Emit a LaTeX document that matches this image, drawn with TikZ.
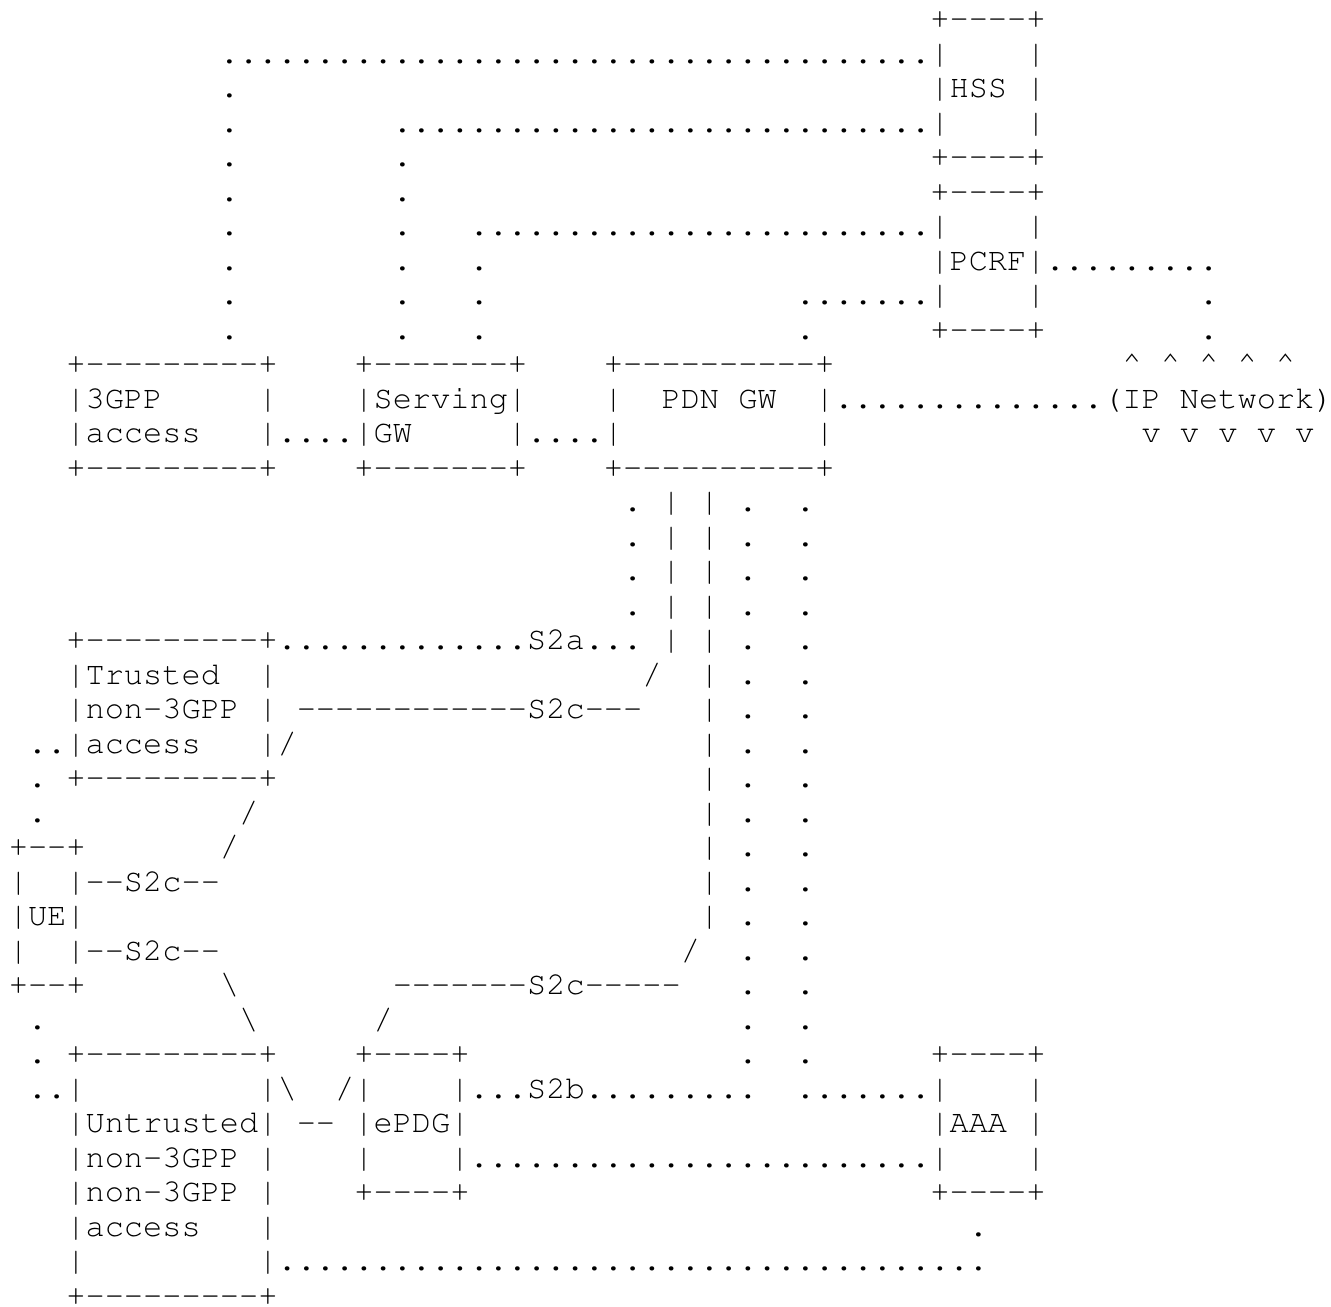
\documentclass[tikz,border=0pt]{standalone}
\usepackage[T1]{fontenc}
\usepackage{courier}
\frenchspacing
\newlength{\cw}
\setlength{\cw}{6pt}
\newcommand{\gap}[1]{\hspace*{#1\cw}}
\ExplSyntaxOn
\NewDocumentCommand{\dotrun}{m}{\prg_replicate:nn{#1}{.}}
\NewDocumentCommand{\dashrun}{m}{\prg_replicate:nn{#1}{-{}}}
\ExplSyntaxOff
\tikzset{txt/.style={anchor=base west, inner sep=0pt, outer sep=0pt, font=\ttfamily}}

\begin{document}
\begin{tikzpicture}[x=6pt, y=-10.78pt]
\useasboundingbox (-2.75pt,-1.72pt) rectangle (413.19pt,-410.16pt);

% HSS and PCRF
\node[txt] (r1) at (0,1) {\gap{48}+\dashrun{4}+};
\node[txt] (r2) at (0,2) {\gap{11}\dotrun{37}|\gap{4}|};
\node[txt] (r3) at (0,3) {\gap{11}.\gap{36}|HSS |};
\node[txt] (r4) at (0,4) {\gap{11}.\gap{8}\dotrun{28}|\gap{4}|};
\node[txt] (r5) at (0,5) {\gap{11}.\gap{8}.\gap{27}+\dashrun{4}+};
\node[txt] (r6) at (0,6) {\gap{11}.\gap{8}.\gap{27}+\dashrun{4}+};
\node[txt] (r7) at (0,7) {\gap{11}.\gap{8}.\gap{3}\dotrun{24}|\gap{4}|};
\node[txt] (r8) at (0,8) {\gap{11}.\gap{8}.\gap{3}.\gap{23}|PCRF|\dotrun{9}};
\node[txt] (r9) at (0,9) {\gap{11}.\gap{8}.\gap{3}.\gap{16}\dotrun{7}|\gap{4}|\gap{8}.};
\node[txt] (r10) at (0,10) {\gap{11}.\gap{8}.\gap{3}.\gap{16}.\gap{6}+\dashrun{4}+\gap{8}.};

% 3GPP access, Serving GW, PDN GW
\node[txt] (r11) at (0,11) {\gap{3}+\dashrun{9}+\gap{4}+\dashrun{7}+\gap{4}+\dashrun{10}+\gap{15}\textasciicircum\gap{1}\textasciicircum\gap{1}\textasciicircum\gap{1}\textasciicircum\gap{1}\textasciicircum};
\node[txt] (r12) at (0,12) {\gap{3}|3GPP\gap{5}|\gap{4}|Serving|\gap{4}|\gap{2}PDN GW\gap{2}|\dotrun{14}(IP Network)};
\node[txt] (r13) at (0,13) {\gap{3}|access\gap{3}|....|GW\gap{5}|....|\gap{10}|\gap{16}v v v v v};
\node[txt] (r14) at (0,14) {\gap{3}+\dashrun{9}+\gap{4}+\dashrun{7}+\gap{4}+\dashrun{10}+};

% Trusted non-3GPP access
\node[txt] (r15) at (0,15) {\gap{32}. | | .\gap{2}.};
\node[txt] (r16) at (0,16) {\gap{32}. | | .\gap{2}.};
\node[txt] (r17) at (0,17) {\gap{32}. | | .\gap{2}.};
\node[txt] (r18) at (0,18) {\gap{32}. | | .\gap{2}.};
\node[txt] (r19) at (0,19) {\gap{3}+\dashrun{9}+\dotrun{13}S2a... | | .\gap{2}.};
\node[txt] (r20) at (0,20) {\gap{3}|Trusted\gap{2}|\gap{19}/\gap{2}| .\gap{2}.};
\node[txt] (r21) at (0,21) {\gap{3}|non\dashrun{1}3GPP | \dashrun{12}S2c\dashrun{3}\gap{3}| .\gap{2}.};
\node[txt] (r22) at (0,22) {\gap{1}..|access\gap{3}|/\gap{21}| .\gap{2}.};
\node[txt] (r23) at (0,23) {\gap{1}. +\dashrun{9}+\gap{22}| .\gap{2}.};
\node[txt] (r24) at (0,24) {\gap{1}.\gap{10}/\gap{23}| .\gap{2}.};

% UE
\node[txt] (r25) at (0,25) {+\dashrun{2}+\gap{7}/\gap{24}| .\gap{2}.};
\node[txt] (r26) at (0,26) {|\gap{2}|\dashrun{2}S2c\dashrun{2}\gap{25}| .\gap{2}.};
\node[txt] (r27) at (0,27) {|UE|\gap{32}| .\gap{2}.};
\node[txt] (r28) at (0,28) {|\gap{2}|\dashrun{2}S2c\dashrun{2}\gap{24}/\gap{2}.\gap{2}.};
\node[txt] (r29) at (0,29) {+\dashrun{2}+\gap{7}\textbackslash\gap{8}\dashrun{7}S2c\dashrun{5}\gap{3}.\gap{2}.};
\node[txt] (r30) at (0,30) {\gap{1}.\gap{10}\textbackslash\gap{6}/\gap{18}.\gap{2}.};

% Untrusted non-3GPP access, ePDG, AAA
\node[txt] (r31) at (0,31) {\gap{1}. +\dashrun{9}+\gap{4}+\dashrun{4}+\gap{14}.\gap{2}.\gap{6}+\dashrun{4}+};
\node[txt] (r32) at (0,32) {\gap{1}..|\gap{9}|\textbackslash\gap{2}/|\gap{4}|...S2b\dotrun{9}\gap{2}\dotrun{7}|\gap{4}|};
\node[txt] (r33) at (0,33) {\gap{3}|Untrusted| \dashrun{2}\gap{1}|ePDG|\gap{24}|AAA |};
\node[txt] (r34) at (0,34) {\gap{3}|non\dashrun{1}3GPP |\gap{4}|\gap{4}|\dotrun{24}|\gap{4}|};
\node[txt] (r35) at (0,35) {\gap{3}|non\dashrun{1}3GPP |\gap{4}+\dashrun{4}+\gap{24}+\dashrun{4}+};
\node[txt] (r36) at (0,36) {\gap{3}|access\gap{3}|\gap{36}.};
\node[txt] (r37) at (0,37) {\gap{3}|\gap{9}|\dotrun{37}};
\node[txt] (r38) at (0,38) {\gap{3}+\dashrun{9}+};

\end{tikzpicture}
\end{document}
